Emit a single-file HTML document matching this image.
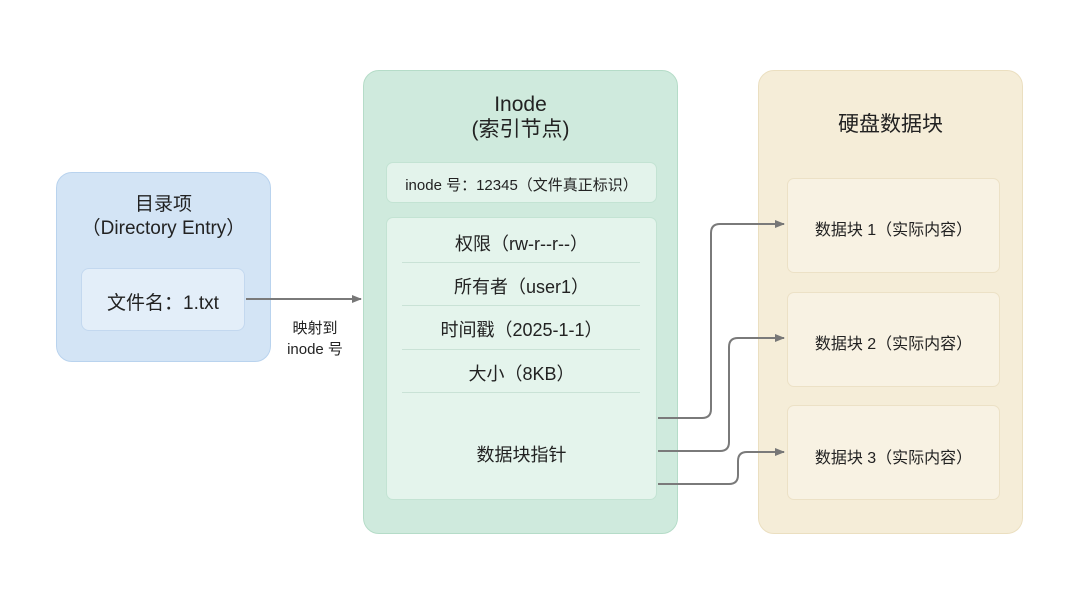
<!DOCTYPE html>
<html><head><meta charset="utf-8"><style>
*{margin:0;padding:0;box-sizing:border-box}
body{width:1080px;height:589px;background:#fff;position:relative;overflow:hidden;font-family:"Liberation Sans","Noto Sans CJK SC",sans-serif;color:#222}
.b{position:absolute;border-radius:16px}
.t{position:absolute;text-align:center;white-space:nowrap}
.sep{position:absolute;left:402px;width:238px;height:1px;background:#c9e2d6}
</style></head><body>
<div class="b" style="left:56px;top:172px;width:215px;height:190px;background:#d3e4f5;border:1.5px solid #b9d3ee"></div>
<div class="t" style="left:56px;width:215px;top:193px;font-size:19px;line-height:24px">目录项<br>（Directory Entry）</div>
<div class="b" style="left:81px;top:268px;width:164px;height:63px;border-radius:8px;background:#e3eef9;border:1.5px solid #c3d8ef"></div>
<div class="t" style="left:81px;width:164px;top:288px;font-size:19px">文件名：1.txt</div>
<div class="t" style="left:270px;width:90px;top:318px;font-size:15px;line-height:21px">映射到<br>inode 号</div>

<div class="b" style="left:363px;top:70px;width:315px;height:464px;background:#cfeadd;border:1.5px solid #b5dcc8"></div>
<div class="t" style="left:363px;width:315px;top:92px;font-size:21px;line-height:25px">Inode<br>(索引节点)</div>
<div class="b" style="left:386px;top:162px;width:271px;height:41px;border-radius:7px;background:#e3f3eb;border:1.5px solid #c3e3d3"></div>
<div class="t" style="left:386px;width:271px;top:174px;font-size:15px">inode 号：12345（文件真正标识）</div>
<div class="b" style="left:386px;top:217px;width:271px;height:283px;border-radius:7px;background:#e4f4ec;border:1.5px solid #c3e3d3"></div>
<div class="t" style="left:386px;width:271px;top:230px;font-size:18px">权限（rw-r--r--）</div>
<div class="sep" style="top:262px"></div>
<div class="t" style="left:386px;width:271px;top:273px;font-size:18px">所有者（user1）</div>
<div class="sep" style="top:305px"></div>
<div class="t" style="left:386px;width:271px;top:316px;font-size:18px">时间戳（2025-1-1）</div>
<div class="sep" style="top:349px"></div>
<div class="t" style="left:386px;width:271px;top:360px;font-size:18px">大小（8KB）</div>
<div class="sep" style="top:392px"></div>
<div class="t" style="left:386px;width:271px;top:441px;font-size:18px">数据块指针</div>

<div class="b" style="left:758px;top:70px;width:265px;height:464px;background:#f5edd8;border:1.5px solid #ebdfc0"></div>
<div class="t" style="left:758px;width:265px;top:108px;font-size:21px">硬盘数据块</div>
<div class="b" style="left:787px;top:178px;width:213px;height:95px;border-radius:7px;background:#f8f2e3;border:1.5px solid #ece1c6"></div>
<div class="t" style="left:787px;width:213px;top:216px;font-size:16px">数据块 1（实际内容）</div>
<div class="b" style="left:787px;top:292px;width:213px;height:95px;border-radius:7px;background:#f8f2e3;border:1.5px solid #ece1c6"></div>
<div class="t" style="left:787px;width:213px;top:330px;font-size:16px">数据块 2（实际内容）</div>
<div class="b" style="left:787px;top:405px;width:213px;height:95px;border-radius:7px;background:#f8f2e3;border:1.5px solid #ece1c6"></div>
<div class="t" style="left:787px;width:213px;top:444px;font-size:16px">数据块 3（实际内容）</div>

<svg style="position:absolute;left:0;top:0" width="1080" height="589">
<defs><marker id="a" markerWidth="10" markerHeight="8" refX="9" refY="4" orient="auto" markerUnits="userSpaceOnUse"><path d="M0,0L10,4L0,8z" fill="#777"/></marker></defs>
<g fill="none" stroke="#7a7a7a" stroke-width="2">
<path d="M246,299H361" marker-end="url(#a)"/>
<path d="M658,418H702Q711,418 711,409V233Q711,224 720,224H784" marker-end="url(#a)"/>
<path d="M658,451H720Q729,451 729,442V347Q729,338 738,338H784" marker-end="url(#a)"/>
<path d="M658,484H729Q738,484 738,475V461Q738,452 747,452H784" marker-end="url(#a)"/>
</g></svg>
</body></html>
